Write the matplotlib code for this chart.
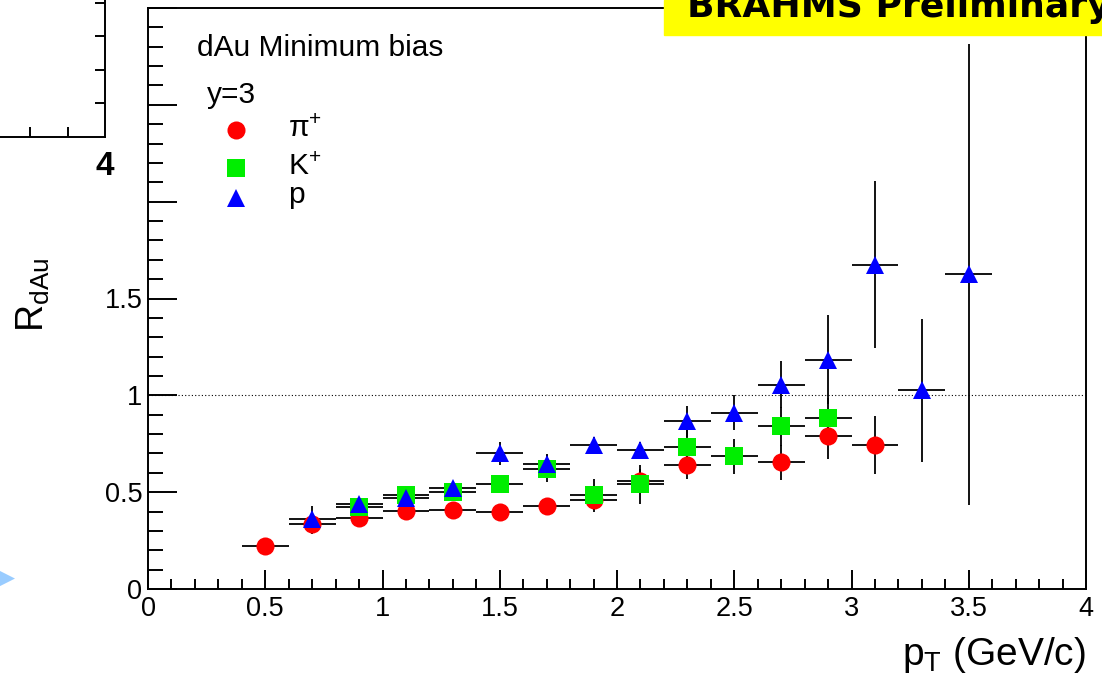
import matplotlib
matplotlib.use("Agg")
import matplotlib.pyplot as plt
from matplotlib.lines import Line2D
from matplotlib.patches import Rectangle
from matplotlib.ticker import MultipleLocator

plt.rcParams['font.family'] = ['Liberation Sans', 'DejaVu Sans']
plt.rcParams['mathtext.fontset'] = 'custom'
plt.rcParams['mathtext.rm'] = 'Liberation Sans'
plt.rcParams['mathtext.it'] = 'Liberation Sans:italic'

# R_dAu vs pT at y=3, minimum bias d+Au
pt_pi = [0.5, 0.7, 0.9, 1.1, 1.3, 1.5, 1.7, 1.9, 2.1, 2.3, 2.7, 2.9, 3.1]
r_pi = [0.22, 0.335, 0.365, 0.405, 0.41, 0.40, 0.43, 0.46, 0.56, 0.64, 0.655, 0.79, 0.745]
err_pi = [0.015, 0.05, 0.02, 0.02, 0.02, 0.02, 0.02, 0.05, 0.06, 0.07, 0.09, 0.12, 0.15]

pt_k = [0.9, 1.1, 1.3, 1.5, 1.7, 1.9, 2.1, 2.3, 2.5, 2.7, 2.9]
r_k = [0.425, 0.485, 0.50, 0.54, 0.62, 0.485, 0.54, 0.735, 0.685, 0.84, 0.885]
err_k = [0.02, 0.02, 0.02, 0.03, 0.07, 0.085, 0.10, 0.10, 0.09, 0.10, 0.10]

pt_p = [0.7, 0.9, 1.1, 1.3, 1.5, 1.7, 1.9, 2.1, 2.3, 2.5, 2.7, 2.9, 3.1, 3.3, 3.5]
r_p = [0.36, 0.44, 0.47, 0.52, 0.70, 0.645, 0.745, 0.72, 0.865, 0.91, 1.055, 1.185, 1.675, 1.025, 1.625]
err_p = [0.07, 0.03, 0.03, 0.03, 0.06, 0.05, 0.04, 0.04, 0.08, 0.09, 0.12, 0.23, 0.43, 0.37, 1.19]

bin_half_width = 0.1

series = [
    (pt_pi, r_pi, err_pi, 'o', '#ff0000', 13, r'π$^{+}$'),
    (pt_k, r_k, err_k, 's', '#00ee00', 12.5, r'K$^{+}$'),
    (pt_p, r_p, err_p, '^', '#0000ff', 12.5, 'p'),
]

W, H = 1102, 696
fig = plt.figure(figsize=(W / 100, H / 100), dpi=100)


def fx(px):
    return px / W


def fy(py):
    return 1 - py / H


ax = fig.add_axes([fx(148), fy(589), fx(1086) - fx(148), fy(8) - fy(589)])
ax.set_xlim(0, 4)
ax.set_ylim(0, 3)

# error bars first so every marker stays on top
for x, y, e, m, c, ms, lab in series:
    ax.errorbar(x, y, yerr=e, xerr=bin_half_width, fmt='none',
                ecolor='black', elinewidth=1.3, capsize=0, zorder=2)
for x, y, e, m, c, ms, lab in series:
    ax.plot(x, y, ls='none', marker=m, ms=ms, color=c, mew=0, zorder=3)

ax.axhline(1.0, color='black', lw=0.8, ls=(0, (1, 2)), zorder=1)

for s in ax.spines.values():
    s.set_linewidth(1.4)

ax.xaxis.set_minor_locator(MultipleLocator(0.1))
ax.yaxis.set_minor_locator(MultipleLocator(0.1))
ax.set_xticks([0, 0.5, 1, 1.5, 2, 2.5, 3, 3.5, 4])
ax.set_xticklabels(['0', '0.5', '1', '1.5', '2', '2.5', '3', '3.5', '4'])
ax.set_yticks([0, 0.5, 1, 1.5, 2, 2.5, 3])
ax.set_yticklabels(['0', '0.5', '1', '1.5', '', '', ''])

ax.tick_params(axis='y', which='major', direction='in', length=21, width=1.4, labelsize=19.5, pad=4)
ax.tick_params(axis='y', which='minor', direction='in', length=10.5, width=1.4)
ax.tick_params(axis='x', which='major', direction='in', length=14, width=1.4, labelsize=19.5, pad=5)
ax.tick_params(axis='x', which='minor', direction='in', length=7, width=1.4)

fig.text(fx(33), fy(295), r'R$_{\mathrm{dAu}}$', rotation=90, fontsize=27,
         ha='center', va='center')
fig.text(fx(1086), fy(655), r'p$_{\mathrm{T}}$ (GeV/c)', fontsize=28,
         ha='right', va='center')

# legend block
fig.text(fx(197), fy(56), 'dAu Minimum bias', fontsize=21.5, va='baseline')
fig.text(fx(207), fy(103), 'y=3', fontsize=21.5, va='baseline')
key_y = [130, 168, 198]
text_y = [137, 175, 203]
for (x, y, e, m, c, ms, lab), ky, ty in zip(series, key_y, text_y):
    fig.add_artist(Line2D([fx(236)], [fy(ky)], marker=m, ms=ms, color=c, mew=0,
                          ls='none', transform=fig.transFigure))
    fig.text(fx(288), fy(ty), lab, fontsize=21.5, va='baseline')

# neighbouring panel edge on the left
ax2 = fig.add_axes([0, fy(137), fx(105), 1 - fy(137)])
ax2.set_xlim(4 - 105 / 75, 4)
ax2.set_ylim(0, 137 / 33.6)
ax2.spines['left'].set_visible(False)
ax2.spines['top'].set_visible(False)
ax2.spines['right'].set_linewidth(1.4)
ax2.spines['bottom'].set_linewidth(1.4)
ax2.set_xticks([4])
ax2.set_xticklabels(['4'], fontweight='bold', fontsize=24)
ax2.set_xticks([3.0, 3.5], minor=True)
ax2.tick_params(axis='x', which='major', length=0, pad=10)
ax2.tick_params(axis='x', which='minor', direction='in', length=7, width=1.4)
ax2.yaxis.tick_right()
ax2.set_yticks([1, 2, 3, 4])
ax2.tick_params(axis='y', which='major', direction='in', length=7, width=1.4, labelright=False)
ax2.patch.set_alpha(0)

# preliminary banner
fig.add_artist(Rectangle((fx(664), fy(35)), fx(W) - fx(664), fy(0) - fy(35),
                         transform=fig.transFigure, color='#ffff00', zorder=5))
fig.text(fx(687), fy(17), 'BRAHMS Preliminary', fontsize=26, fontweight='bold',
         family='DejaVu Sans', va='baseline', zorder=6)

# slide bullet
fig.text(fx(15), fy(578), '\u25B6', color='#99ccff', fontsize=15,
         family='DejaVu Sans', ha='right', va='center')

fig.savefig('out.png', dpi=100)
